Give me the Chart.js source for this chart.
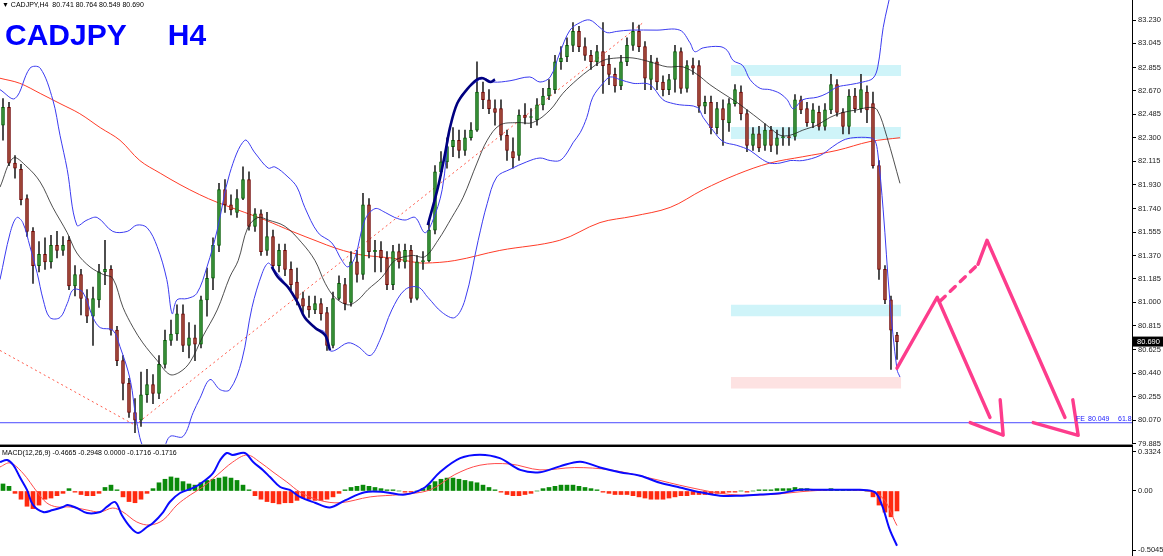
<!DOCTYPE html>
<html>
<head>
<meta charset="utf-8">
<script src="https://cdn.jsdelivr.net/npm/chart.js@4.4.1/dist/chart.umd.min.js"></script>
<style>
body{margin:0;background:#fff;overflow:hidden;}
#wrap{position:relative;width:1163px;height:556px;font-family:"Liberation Sans",Arial,sans-serif;}
#main{position:absolute;left:0;top:0;}
#macd{position:absolute;left:0;top:447px;}
#sep1{position:absolute;left:0;top:444px;width:1133px;height:1px;background:#909090;}
#sep2{position:absolute;left:0;top:445px;width:1133px;height:2px;background:#000;}
#head{position:absolute;left:2px;top:1px;font-size:7px;color:#000;white-space:pre;}
#big{position:absolute;left:5px;top:18px;font-size:30px;font-weight:bold;color:#0000ff;white-space:pre;}
#macdLbl{position:absolute;left:2px;top:449px;font-size:7px;color:#000;white-space:pre;}
</style>
</head>
<body>
<div id="wrap">
<canvas id="main" width="1163" height="449"></canvas>
<div id="sep1"></div><div id="sep2"></div>
<canvas id="macd" width="1163" height="109"></canvas>
<div id="head">▼ CADJPY,H4  80.741 80.764 80.549 80.690</div>
<div id="big">CADJPY     H4</div>
<div id="macdLbl">MACD(12,26,9) -0.4665 -0.2948 0.0000 -0.1716 -0.1716</div>
</div>
<script>
// ---------- CANDLES (H4) ----------
const opens = [
82.40,82.54,82.10,82.05,81.82,81.56,81.29,81.38,81.32,81.45,
81.41,81.49,81.13,81.22,81.03,80.89,81.02,81.24,81.26,80.78,
80.54,80.36,80.13,80.07,80.27,80.35,80.28,80.51,80.70,80.75,
80.91,80.66,80.72,80.67,81.02,81.19,81.45,81.89,81.77,81.71,
81.82,81.97,81.60,81.70,81.41,81.52,81.29,81.41,81.26,81.16,
81.03,80.97,80.94,80.99,80.92,80.66,81.03,81.14,81.00,81.32,
81.22,81.77,81.40,81.41,81.35,81.14,81.40,81.32,81.41,81.03,
81.32,81.33,81.57,82.03,82.11,82.23,82.28,82.20,82.30,82.36,
82.66,82.60,82.53,82.53,82.32,82.19,82.16,82.48,82.46,82.44,
82.56,82.63,82.68,82.90,82.94,83.03,83.14,83.02,82.95,82.90,
82.98,82.88,82.80,82.71,82.90,83.03,83.14,83.02,82.76,82.90,
82.74,82.68,82.76,82.98,82.69,82.87,82.87,82.55,82.58,82.38,
82.53,82.42,82.57,82.66,82.49,82.24,82.33,82.24,82.36,82.24,
82.30,82.31,82.31,82.60,82.53,82.42,82.50,82.39,82.52,82.72,
82.50,82.39,82.63,82.53,82.66,82.57,82.08,81.26,81.02,80.741];
const highs = [
82.61,82.58,82.16,82.09,81.85,81.59,81.48,81.51,81.53,81.56,
81.52,81.52,81.29,81.26,81.10,81.12,81.30,81.49,81.29,80.81,
80.58,80.40,80.24,80.45,80.47,80.43,80.58,80.78,80.86,80.98,
80.98,80.84,80.82,81.05,81.27,81.51,81.94,81.97,81.85,81.89,
82.07,82.03,81.74,81.73,81.71,81.57,81.46,81.46,81.32,81.27,
81.08,81.05,81.05,81.03,80.96,81.08,81.21,81.19,81.40,81.41,
81.86,81.82,81.49,81.48,81.40,81.45,81.46,81.46,81.45,81.37,
81.40,81.63,82.08,82.19,82.30,82.38,82.36,82.36,82.42,82.90,
82.74,82.68,82.60,82.60,82.36,82.30,82.52,82.57,82.53,82.61,
82.69,82.76,82.95,83.02,83.09,83.21,83.18,83.09,82.99,83.03,
83.21,82.95,82.85,82.95,83.09,83.21,83.19,83.06,82.95,82.93,
82.79,82.80,83.03,83.01,82.91,82.93,82.91,82.63,82.63,82.58,
82.60,82.61,82.72,82.71,82.52,82.38,82.39,82.41,82.39,82.36,
82.38,82.38,82.64,82.63,82.58,82.57,82.55,82.57,82.80,82.76,
82.53,82.68,82.69,82.80,82.71,82.66,82.12,81.29,81.05,80.764];
const lows = [
82.28,82.08,81.98,81.77,81.52,81.15,81.24,81.26,81.27,81.35,
81.37,81.10,81.05,80.90,80.84,80.66,80.96,81.14,80.74,80.50,
80.23,80.09,79.97,80.02,80.21,80.20,80.24,80.48,80.66,80.70,
80.61,80.56,80.54,80.64,80.89,81.10,81.40,81.71,81.69,81.67,
81.81,81.57,81.56,81.37,81.37,81.26,81.24,81.21,81.10,80.98,
80.92,80.88,80.91,80.86,80.62,80.64,81.02,80.94,80.97,81.16,
81.18,81.35,81.24,81.24,81.10,81.10,81.27,81.27,81.00,81.02,
81.26,81.32,81.54,82.00,82.06,82.15,82.14,82.16,82.28,82.35,
82.53,82.49,82.40,82.28,82.12,82.06,82.12,82.41,82.38,82.40,
82.52,82.60,82.65,82.84,82.90,82.98,82.98,82.91,82.84,82.87,
82.65,82.72,82.66,82.68,82.87,82.99,82.98,82.68,82.68,82.68,
82.63,82.64,82.66,82.65,82.66,82.80,82.50,82.49,82.33,82.33,
82.24,82.35,82.55,82.44,82.19,82.20,82.19,82.20,82.19,82.17,
82.24,82.24,82.28,82.49,82.39,82.38,82.36,82.36,82.49,82.47,
82.33,82.33,82.50,82.50,82.42,82.06,81.18,80.99,80.47,80.549];
const closes = [
82.54,82.10,82.06,81.81,81.56,81.29,81.38,81.32,81.45,81.41,
81.45,81.13,81.22,81.03,80.89,81.03,81.24,81.26,80.78,80.54,
80.36,80.13,80.07,80.27,80.35,80.28,80.51,80.70,80.75,80.91,
80.66,80.72,80.67,81.02,81.19,81.45,81.89,81.77,81.73,81.82,
81.97,81.60,81.70,81.40,81.52,81.29,81.41,81.26,81.14,81.03,
80.97,80.94,80.99,80.91,80.66,81.03,81.15,80.99,81.32,81.22,
81.77,81.40,81.41,81.35,81.14,81.40,81.32,81.41,81.03,81.32,
81.33,81.57,82.03,82.11,82.23,82.28,82.20,82.30,82.36,82.66,
82.60,82.53,82.50,82.32,82.20,82.14,82.48,82.46,82.46,82.56,
82.63,82.69,82.90,82.93,83.03,83.14,83.02,82.95,82.90,82.98,
82.87,82.80,82.71,82.90,83.03,83.14,83.02,82.77,82.90,82.74,
82.68,82.76,82.98,82.69,82.87,82.85,82.55,82.58,82.38,82.53,
82.44,82.57,82.68,82.49,82.24,82.33,82.22,82.36,82.24,82.30,
82.31,82.30,82.60,82.52,82.42,82.52,82.39,82.52,82.72,82.50,
82.39,82.63,82.53,82.68,82.52,82.08,81.26,81.02,80.78,80.69];

// ---------- BOLLINGER / MA (bar index, price) ----------
const upperIdx = [-0.5,2,4.5,6.2,8.3,9.5,10.7,12.3,14,15.7,18.3,20.7,22.3,24,25.7,27.3,28.2,29,30.7,32.3,34,35.7,37.8,40.3,42,44.2,45.3,47.5,49,50.3,52.5,54.8,56.5,57.5,58.7,60.3,62,63.7,65.3,67,68.7,70.3,71.5,73.2,74.5,76.2,77.8,80,81.7,84.5,87.8,89.5,91.2,92.8,94.5,96.2,97.8,99.5,100.7,102.3,104.5,109,112.8,114.5,115.3,116.7,119.5,120.7,121.7,123.3,124.5,126.2,127.8,129.5,130.7,131.7,133.3,135.7,137.3,139,141.2,143.3,145,145.8,146.7,147.5,148.3,149.5];
const upperBand = [82.68,82.61,82.85,82.85,82.60,82.32,82.05,81.61,81.65,81.67,81.56,81.56,81.61,81.59,81.44,81.18,80.91,81.02,81.03,81.07,81.28,81.57,82.02,82.28,82.18,82.06,82.07,81.99,81.91,81.75,81.55,81.47,81.33,81.28,81.36,81.65,81.74,81.71,81.67,81.65,81.67,81.55,81.63,81.89,82.38,82.62,82.70,82.77,82.74,82.75,82.78,82.74,82.78,82.97,83.15,83.21,83.23,83.17,83.13,83.14,83.15,83.15,83.15,83.05,82.98,83.01,83.02,82.99,82.91,82.87,82.76,82.69,82.68,82.65,82.60,82.53,82.60,82.62,82.65,82.70,82.72,82.74,82.77,82.86,83.17,83.35,83.51,83.70];
const lowerIdx = [-0.5,1.2,2.3,3.3,4.5,5.7,6.7,7.8,9.5,10.7,11.7,13.3,15,16.2,18.3,19.5,21.2,22.3,23.7,26.2,27.8,30,31.7,32.8,34.5,36.2,37.8,39.8,41.5,43.2,44.2,45,47.5,49.2,50.3,52,53.7,54.5,55.3,57.5,59.2,61.2,62.8,64.8,67,69.2,70.8,73.2,75.3,77,79.2,80.7,82.3,84.5,87.3,89.5,91.2,92.8,94,95,96.2,97.3,98.3,100,101.2,102.8,105,107.8,110,111.7,112.8,115.7,116.7,118.3,120,122.3,124.5,126.2,127.8,129.5,131.2,133.3,136.2,138.3,140,141.7,144.5,145.3,145.8,146.7,147.8,149,149.5];
const lowerBand = [81.18,81.55,81.67,81.63,81.44,81.23,81.02,80.88,80.88,80.99,81.10,81.08,80.88,80.80,80.78,80.65,80.39,80.05,79.83,79.79,79.94,79.94,80.13,80.24,80.39,80.31,80.31,80.54,80.96,81.23,81.31,81.27,81.12,80.99,80.88,80.80,80.76,80.62,80.62,80.68,80.65,80.58,80.70,80.94,81.10,81.12,81.04,80.92,80.88,81.02,81.49,81.78,81.99,82.05,82.11,82.14,82.12,82.12,82.18,82.26,82.34,82.46,82.62,82.73,82.78,82.76,82.73,82.72,82.60,82.57,82.56,82.54,82.46,82.36,82.27,82.24,82.20,82.14,82.10,82.10,82.12,82.12,82.16,82.23,82.28,82.30,82.30,82.28,82.18,81.73,81.02,80.47,80.41];
const midIdx = [-0.5,1.7,4,6.2,8.3,10.7,12.3,14.5,16.7,18.3,20,21.7,23.3,25.7,27.8,29.5,31.2,33.3,35.7,37.8,39.2,40.8,42.5,44.2,47,49.8,52,53.7,55.3,57.5,59.2,60.8,63.2,65.3,68.2,70.3,72.5,74.8,76.7,79,80.7,82.8,85.7,88.3,91.2,93.3,95.7,97.8,100,102.3,105,107.8,110.7,113.3,115.7,117.8,120,122.3,124,126.2,127.8,129.5,131.2,133.3,135.7,137.8,140,142.3,144.5,145.7,147.3,149.5];
const midBand = [81.91,82.14,82.07,81.95,81.75,81.55,81.39,81.28,81.22,81.19,80.96,80.80,80.68,80.54,80.43,80.45,80.53,80.73,80.94,81.20,81.33,81.59,81.67,81.65,81.60,81.47,81.33,81.15,81.04,80.98,81.02,81.10,81.20,81.33,81.37,81.36,81.49,81.67,81.83,82.10,82.28,82.40,82.42,82.42,82.52,82.65,82.76,82.84,82.91,82.93,82.93,82.90,82.86,82.86,82.80,82.72,82.65,82.58,82.52,82.44,82.38,82.32,82.32,82.36,82.40,82.46,82.50,82.52,82.54,82.52,82.31,81.94];
const maIdx = [-0.5,2.8,6.2,9.5,12.8,16.2,19.5,22.8,26.2,29.5,32.8,35.7,40.3,43.7,48.2,52.5,55.3,58.2,60.3,64.8,68.2,70.3,75.3,82.8,92.8,99.5,105,111.2,116.7,122.3,127.8,133.3,139,144.5,149.5];
const maSlow = [82.77,82.73,82.65,82.57,82.49,82.38,82.28,82.12,82.02,81.93,81.85,81.79,81.71,81.65,81.56,81.48,81.43,81.39,81.37,81.35,81.32,81.31,81.33,81.41,81.49,81.63,81.68,81.75,81.89,82.01,82.10,82.15,82.20,82.27,82.30];
// band-walk highlight (thick navy)
const walk1Idx = [44.8,45.8,47.5,49.2,50.3,52,53.7,54.5];
const walk1 = [81.28,81.20,81.12,80.99,80.88,80.80,80.74,80.62];
const walk2Idx = [70.8,72.5,73.7,74.5,75.7,77.3,79,80,81.2,82];
const walk2 = [81.61,81.91,82.18,82.38,82.57,82.68,82.76,82.77,82.74,82.76];

// ---------- DRAWINGS ----------
const trendDownIdx = [-0.5,22], trendDown = [80.62,80.03];
const trendUpIdx = [22,106.7], trendUp = [80.03,83.21];
const fibLevel = 80.049;
const zoneIdx = [121.3,149.7];
const zoneTop = [82.874,82.385,80.98,80.41];
const zoneBottom = [82.788,82.29,80.89,80.32];
const pathIdx = [149,155.7,164.5];
const pathVal = [80.48,81.04,80.09];
const dashIdx = [156.2,162.5], dashVal = [81.01,81.30];
const pathIdx2 = [162.5,164,177];
const pathVal2 = [81.30,81.49,80.09];
const head1Idx = [161.2,166.7,166.2], head1 = [80.05,79.95,80.23];
const head2Idx = [171.7,179.2,178.3], head2 = [80.05,79.95,80.23];

// ---------- AXIS TICKS ----------
const priceTicks = [83.230,83.045,82.855,82.670,82.485,82.300,82.115,81.930,81.740,81.555,81.370,81.185,81.000,80.815,80.625,80.440,80.255,80.070,79.885];
const priceLabels = ["83.230","83.045","82.855","82.670","82.485","82.300","82.115","81.930","81.740","81.555","81.370","81.185","81.000","80.815","80.625","80.440","80.255","80.070","79.885"];
const macdTicks = [0.3324,0,-0.5045];
const macdLabels = ["0.3324","0.00","-0.5045"];

// ---------- MACD ----------
const macdHist = [
0.06,0.04,-0.02,-0.07,-0.13,-0.15,-0.12,-0.07,-0.06,-0.04,
-0.02,0.02,-0.01,-0.03,-0.04,-0.04,-0.02,0.03,0.05,0.01,
-0.05,-0.09,-0.10,-0.07,-0.02,0.02,0.07,0.10,0.12,0.11,
0.08,0.06,0.05,0.07,0.09,0.10,0.11,0.12,0.11,0.09,
0.05,0.01,-0.04,-0.07,-0.09,-0.10,-0.11,-0.10,-0.10,-0.08,
-0.06,-0.07,-0.08,-0.08,-0.07,-0.05,-0.02,0.01,0.03,0.04,
0.05,0.04,0.03,0.02,0.01,0.01,0.00,-0.01,-0.01,0.00,
0.02,0.05,0.08,0.10,0.11,0.11,0.10,0.09,0.08,0.07,
0.05,0.03,0.01,-0.01,-0.03,-0.04,-0.04,-0.03,-0.02,0.00,
0.02,0.03,0.04,0.05,0.05,0.05,0.04,0.03,0.02,0.01,
-0.01,-0.02,-0.03,-0.03,-0.03,-0.04,-0.05,-0.06,-0.07,-0.07,
-0.07,-0.06,-0.05,-0.04,-0.04,-0.03,-0.03,-0.03,-0.03,-0.02,
-0.02,-0.01,-0.01,0.00,-0.01,0.00,0.01,0.01,0.01,0.02,
0.02,0.02,0.03,0.02,0.02,0.01,0.01,0.01,0.02,0.01,
0.01,0.01,0.01,0.01,0.00,-0.05,-0.12,-0.18,-0.22,-0.17];
const macdIdx = [-0.5,0.7,1.7,2.8,4,5,6.7,8.3,10,10.8,12.3,14,16.2,17.3,18.7,19.8,21.2,22.5,24,25,26.7,27.8,29.5,31.7,33.3,35,36.2,37.3,38.3,40.3,41.7,43.3,44.5,46.2,47.8,49.5,52,54.5,57,60.3,63.7,67,70.3,72.8,76.2,79.5,82.8,86.2,89.5,92.8,96.2,99.5,102.8,106.2,109.5,112.8,116.2,119.5,122.8,126.2,129.5,132.8,136.2,139.5,142.8,145.3,146.5,147.8,149];
const macdMain = [0.247,0.264,0.222,0.119,0.009,-0.119,-0.179,-0.162,-0.136,-0.119,-0.145,-0.188,-0.179,-0.136,-0.094,-0.205,-0.307,-0.358,-0.307,-0.273,-0.179,-0.094,-0.017,0.026,0.077,0.153,0.264,0.324,0.307,0.324,0.247,0.179,0.119,0.034,0.009,-0.051,-0.10,-0.14,-0.08,-0.01,-0.01,-0.03,0.03,0.16,0.28,0.31,0.28,0.18,0.16,0.21,0.25,0.20,0.16,0.13,0.07,0.03,-0.01,-0.04,-0.04,-0.03,-0.02,0.01,0.01,0.01,0.01,-0.01,-0.12,-0.33,-0.4665];
const signalIdx = [-0.5,1.2,3.3,5.7,7.3,9,11.2,14,16.2,18.3,20,22.3,24.5,26.7,29,31.2,33.3,35.7,38.3,40.7,42.8,45,47.3,49.5,52.8,56.2,61.2,66.2,71.2,75.3,79.5,84.5,89.5,95.3,101.2,107.8,114.5,121.2,127.8,134.5,141.2,146.2,149];
const macdSignal = [0.205,0.239,0.153,-0.009,-0.102,-0.136,-0.136,-0.162,-0.179,-0.145,-0.179,-0.264,-0.290,-0.247,-0.119,-0.034,0.034,0.136,0.247,0.307,0.247,0.162,0.077,-0.009,-0.08,-0.10,-0.05,-0.03,0.01,0.14,0.22,0.23,0.18,0.20,0.18,0.11,0.03,-0.03,-0.03,0.00,0.01,-0.04,-0.2948];

// ---------- HELPERS ----------
const X_MIN = -0.5, X_MAX = 188.17;
const BULL = "#3f9a3f", BULL_EDGE = "#005a00";
const BEAR = "#a9503f", BEAR_EDGE = "#6e0000";

function pts(idx, vals){ return idx.map((x,i)=>({x:x, y:vals[i]})); }
function line(idx, vals, color, width, extra){
  return Object.assign({type:"line", data:pts(idx,vals), borderColor:color, borderWidth:width,
    pointRadius:0, tension:0.35, fill:false, order:5}, extra||{});
}
function rightAxis(min, max, tickVals, tickLbls){
  return {
    position:"right", min:min, max:max,
    afterFit: s=>{ s.width = 31; s.paddingTop = 0; s.paddingBottom = 0; },
    afterBuildTicks: s=>{ s.ticks = tickVals.map(v=>({value:v})); },
    ticks:{ autoSkip:false, padding:2, color:"#222", font:{family:"Liberation Sans", size:7.5},
      callback:(v,i)=>tickLbls[i] },
    grid:{ drawOnChartArea:false, tickLength:4, color:"#000" },
    border:{ color:"#000" }
  };
}

const bull = opens.map((o,i)=>closes[i]>=o);
const datasets = [];

// zones
zoneTop.forEach((t,k)=>{
  const c = k===3 ? "#fde2e2" : "#cff4f9";
  datasets.push(line(zoneIdx,[t,t],"rgba(0,0,0,0)",0,{order:20,tension:0}));
  datasets.push(line(zoneIdx,[zoneBottom[k],zoneBottom[k]],"rgba(0,0,0,0)",0,{order:20,tension:0,fill:"-1",backgroundColor:c}));
});
// fib line
datasets.push(line([X_MIN,X_MAX],[fibLevel,fibLevel],"#4a4aff",1,{order:19,tension:0}));
// trend lines
datasets.push(line(trendDownIdx,trendDown,"#ff5a4a",1,{order:18,tension:0,borderDash:[2,3]}));
datasets.push(line(trendUpIdx,trendUp,"#ff5a4a",1,{order:18,tension:0,borderDash:[2,3]}));
// slow MA
datasets.push(line(maIdx,maSlow,"#ff3c28",1,{order:6}));
// candles
datasets.push({type:"bar", data:lows.map((l,i)=>({x:i,y:[l,highs[i]]})), backgroundColor:"#2a2a2a",
  barThickness:1, grouped:false, order:4});
datasets.push({type:"bar", data:opens.map((o,i)=>({x:i,y:[o,closes[i]]})),
  backgroundColor:bull.map(b=>b?BULL:BEAR), borderColor:bull.map(b=>b?BULL_EDGE:BEAR_EDGE),
  borderWidth:1, borderSkipped:false, minBarLength:1, barThickness:3, grouped:false, order:3});
// bands
datasets.push(line(upperIdx,upperBand,"#3b3bf0",1,{order:2}));
datasets.push(line(lowerIdx,lowerBand,"#3b3bf0",1,{order:2}));
datasets.push(line(midIdx,midBand,"#222",0.8,{order:2}));
datasets.push(line(walk1Idx,walk1,"#000080",2.6,{order:1}));
datasets.push(line(walk2Idx,walk2,"#000080",2.6,{order:1}));
// forecast arrows
const PINK = "#fd3c8c";
const pinkOpt = {order:0,tension:0,borderCapStyle:"round",borderJoinStyle:"round"};
datasets.push(line(pathIdx,pathVal,PINK,3.4,pinkOpt));
datasets.push(line(dashIdx,dashVal,PINK,3.4,Object.assign({borderDash:[7,7]},pinkOpt)));
datasets.push(line(pathIdx2,pathVal2,PINK,3.4,pinkOpt));
datasets.push(line(head1Idx,head1,PINK,3.4,pinkOpt));
datasets.push(line(head2Idx,head2,PINK,3.4,pinkOpt));

const tagPlugin = {
  id:"tags",
  afterDraw(chart){
    const c = chart.ctx, y = chart.scales.y;
    c.save();
    c.font = "7px 'Liberation Sans'";
    c.fillStyle = "#2020ff";
    c.textBaseline = "alphabetic";
    const fy = y.getPixelForValue(fibLevel) - 2;
    c.fillText("FE", 1076, fy);
    c.fillText("80.049", 1088, fy);
    c.fillText("61.8", 1118, fy);
    const py = y.getPixelForValue(closes[closes.length-1]);
    c.fillStyle = "#000";
    c.fillRect(1133, py-5, 30, 10);
    c.fillStyle = "#fff";
    c.font = "7.5px 'Liberation Sans'";
    c.textBaseline = "middle";
    c.fillText("80.690", 1137, py);
    c.restore();
  }
};

const common = {
  responsive:false, animation:false, devicePixelRatio:1,
  plugins:{legend:{display:false}, tooltip:{enabled:false}}
};

new Chart(document.getElementById("main").getContext("2d"), {
  type:"bar",
  data:{datasets:datasets},
  options:Object.assign({}, common, {
    layout:{padding:{bottom:5}},
    scales:{
      x:{type:"linear", min:X_MIN, max:X_MAX, offset:false, display:false},
      y:rightAxis(79.881, 83.388, priceTicks, priceLabels)
    }
  }),
  plugins:[tagPlugin]
});

// ---------- MACD WINDOW ----------
new Chart(document.getElementById("macd").getContext("2d"), {
  type:"bar",
  data:{datasets:[
    {type:"bar", data:macdHist.map((v,i)=>({x:i,y:v})),
      backgroundColor:macdHist.map(v=>v>=0?"#0a8a0a":"#ff2a10"),
      barThickness:4, grouped:false, order:3},
    line(signalIdx,macdSignal,"#ff4a4a",1,{order:2}),
    line(macdIdx,macdMain,"#0a0aff",2,{order:1})
  ]},
  options:Object.assign({}, common, {
    layout:{padding:0},
    scales:{
      x:{type:"linear", min:X_MIN, max:X_MAX, offset:false, display:false},
      y:rightAxis(-0.554, 0.375, macdTicks, macdLabels)
    }
  })
});
</script>
</body>
</html>
